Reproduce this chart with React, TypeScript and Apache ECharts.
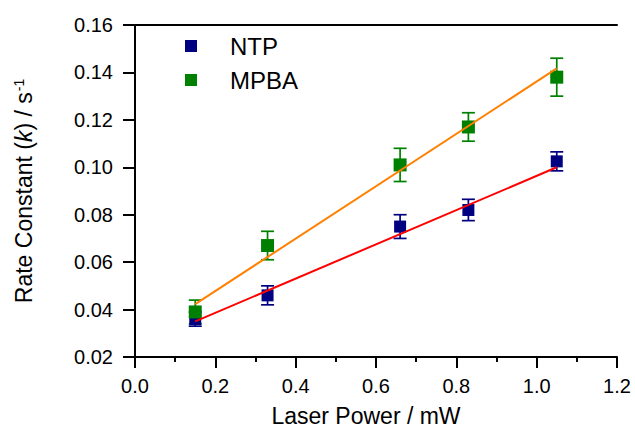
import React, { useEffect, useRef } from "react";
import * as echarts from "echarts";

const xValues = [0.15, 0.33, 0.66, 0.83, 1.05];
const ntpValues = [0.036, 0.046, 0.075, 0.082, 0.1025];
const ntpErrors = [0.003, 0.004, 0.005, 0.0045, 0.004];
const mpbaValues = [0.039, 0.067, 0.101, 0.117, 0.138];
const mpbaErrors = [0.005, 0.006, 0.007, 0.006, 0.008];
const fitX = [0.15, 1.05];
const ntpFit = [0.035, 0.1];
const mpbaFit = [0.0423, 0.1417];

const FONT = "'Liberation Sans', Arial, sans-serif";
const NTP_COLOR = "#000080";
const MPBA_COLOR = "#008000";
const NTP_FIT_COLOR = "#ff0000";
const MPBA_FIT_COLOR = "#ff8000";

function errorSeries(name: string, vals: number[], errs: number[], color: string) {
  return {
    name,
    type: "custom",
    data: xValues.map((x, i) => [x, vals[i], errs[i]]),
    encode: { x: 0, y: 1 },
    z: 2,
    renderItem: (params: any, api: any) => {
      const x = api.value(0);
      const y = api.value(1);
      const e = api.value(2);
      const top = api.coord([x, y + e]);
      const bot = api.coord([x, y - e]);
      const hw = 6.5;
      const style = { stroke: color, lineWidth: 1.7 };
      return {
        type: "group",
        children: [
          { type: "line", shape: { x1: top[0], y1: top[1], x2: bot[0], y2: bot[1] }, style },
          { type: "line", shape: { x1: top[0] - hw, y1: top[1], x2: top[0] + hw, y2: top[1] }, style },
          { type: "line", shape: { x1: bot[0] - hw, y1: bot[1], x2: bot[0] + hw, y2: bot[1] }, style },
        ],
      };
    },
  };
}

export default function App() {
  const ref = useRef<HTMLDivElement>(null);
  useEffect(() => {
    if (!ref.current) return;
    const chart = echarts.init(ref.current, undefined, { renderer: "svg" });
    const axisLine = { show: true, lineStyle: { color: "#000", width: 2 } };
    chart.setOption({
      animation: false,
      backgroundColor: "#fff",
      textStyle: { fontFamily: FONT },
      grid: { left: 135, right: 18, top: 25, bottom: 70, containLabel: false },
      legend: {
        orient: "vertical",
        left: 185,
        top: 34,
        padding: 0,
        itemGap: 10,
        itemWidth: 12,
        itemHeight: 12,
        icon: "rect",
        data: ["NTP", "MPBA"],
        textStyle: {
          fontFamily: FONT,
          fontSize: 24,
          color: "#000",
          lineHeight: 24,
          padding: [0, 0, 0, 28],
        },
      },
      xAxis: [
        {
          type: "value",
          min: 0,
          max: 1.2,
          interval: 0.2,
          name: "Laser Power / mW",
          nameLocation: "middle",
          nameGap: 47,
          nameTextStyle: { fontFamily: FONT, fontSize: 23, color: "#000", padding: [0, 20, 0, 0] },
          axisLine,
          axisTick: { show: true, inside: false, length: 11, lineStyle: { color: "#000", width: 2 } },
          minorTick: { show: true, splitNumber: 2, length: 5, lineStyle: { color: "#000", width: 2 } },
          splitLine: { show: false },
          axisLabel: {
            fontFamily: FONT,
            fontSize: 20,
            color: "#000",
            margin: 19,
            formatter: (v: number) => v.toFixed(1),
          },
        },
        {
          type: "value",
          position: "top",
          min: 0,
          max: 1.2,
          axisLine,
          axisTick: { show: false },
          axisLabel: { show: false },
          splitLine: { show: false },
        },
      ],
      yAxis: [
        {
          type: "value",
          min: 0.02,
          max: 0.16,
          interval: 0.02,
          name: "Rate Constant ({i|k}) / s{sup|-1}",
          nameLocation: "middle",
          nameGap: 99,
          nameRotate: 90,
          nameTextStyle: {
            fontFamily: FONT,
            fontSize: 23,
            color: "#000",
            rich: {
              i: { fontFamily: FONT, fontSize: 23, fontStyle: "italic", color: "#000" },
              sup: { fontFamily: FONT, fontSize: 14, color: "#000", verticalAlign: "top", padding: [0, 0, 10, 1] },
            },
          },
          axisLine,
          axisTick: { show: true, inside: false, length: 12, lineStyle: { color: "#000", width: 2 } },
          splitLine: { show: false },
          axisLabel: {
            fontFamily: FONT,
            fontSize: 20,
            color: "#000",
            margin: 22,
            formatter: (v: number) => v.toFixed(2),
          },
        },
        {
          type: "value",
          position: "right",
          min: 0.02,
          max: 0.16,
          axisLine,
          axisTick: { show: false },
          axisLabel: { show: false },
          splitLine: { show: false },
        },
      ],
      series: [
        errorSeries("NTP err", ntpValues, ntpErrors, NTP_COLOR),
        {
          name: "NTP",
          type: "scatter",
          symbol: "rect",
          symbolSize: 12,
          itemStyle: { color: NTP_COLOR, opacity: 1 },
          data: xValues.map((x, i) => [x, ntpValues[i]]),
          z: 3,
        },
        errorSeries("MPBA err", mpbaValues, mpbaErrors, MPBA_COLOR),
        {
          name: "MPBA",
          type: "scatter",
          symbol: "rect",
          symbolSize: 13,
          itemStyle: { color: MPBA_COLOR, opacity: 1 },
          data: xValues.map((x, i) => [x, mpbaValues[i]]),
          z: 4,
        },
        {
          name: "NTP fit",
          type: "line",
          showSymbol: false,
          symbol: "none",
          lineStyle: { color: NTP_FIT_COLOR, width: 2 },
          data: fitX.map((x, i) => [x, ntpFit[i]]),
          z: 5,
        },
        {
          name: "MPBA fit",
          type: "line",
          showSymbol: false,
          symbol: "none",
          lineStyle: { color: MPBA_FIT_COLOR, width: 2 },
          data: fitX.map((x, i) => [x, mpbaFit[i]]),
          z: 5,
        },
      ],
    });
    return () => chart.dispose();
  }, []);
  return (
    <div
      ref={ref}
      style={{ position: "fixed", left: 0, top: 0, width: 635, height: 432, background: "#fff" }}
    />
  );
}
